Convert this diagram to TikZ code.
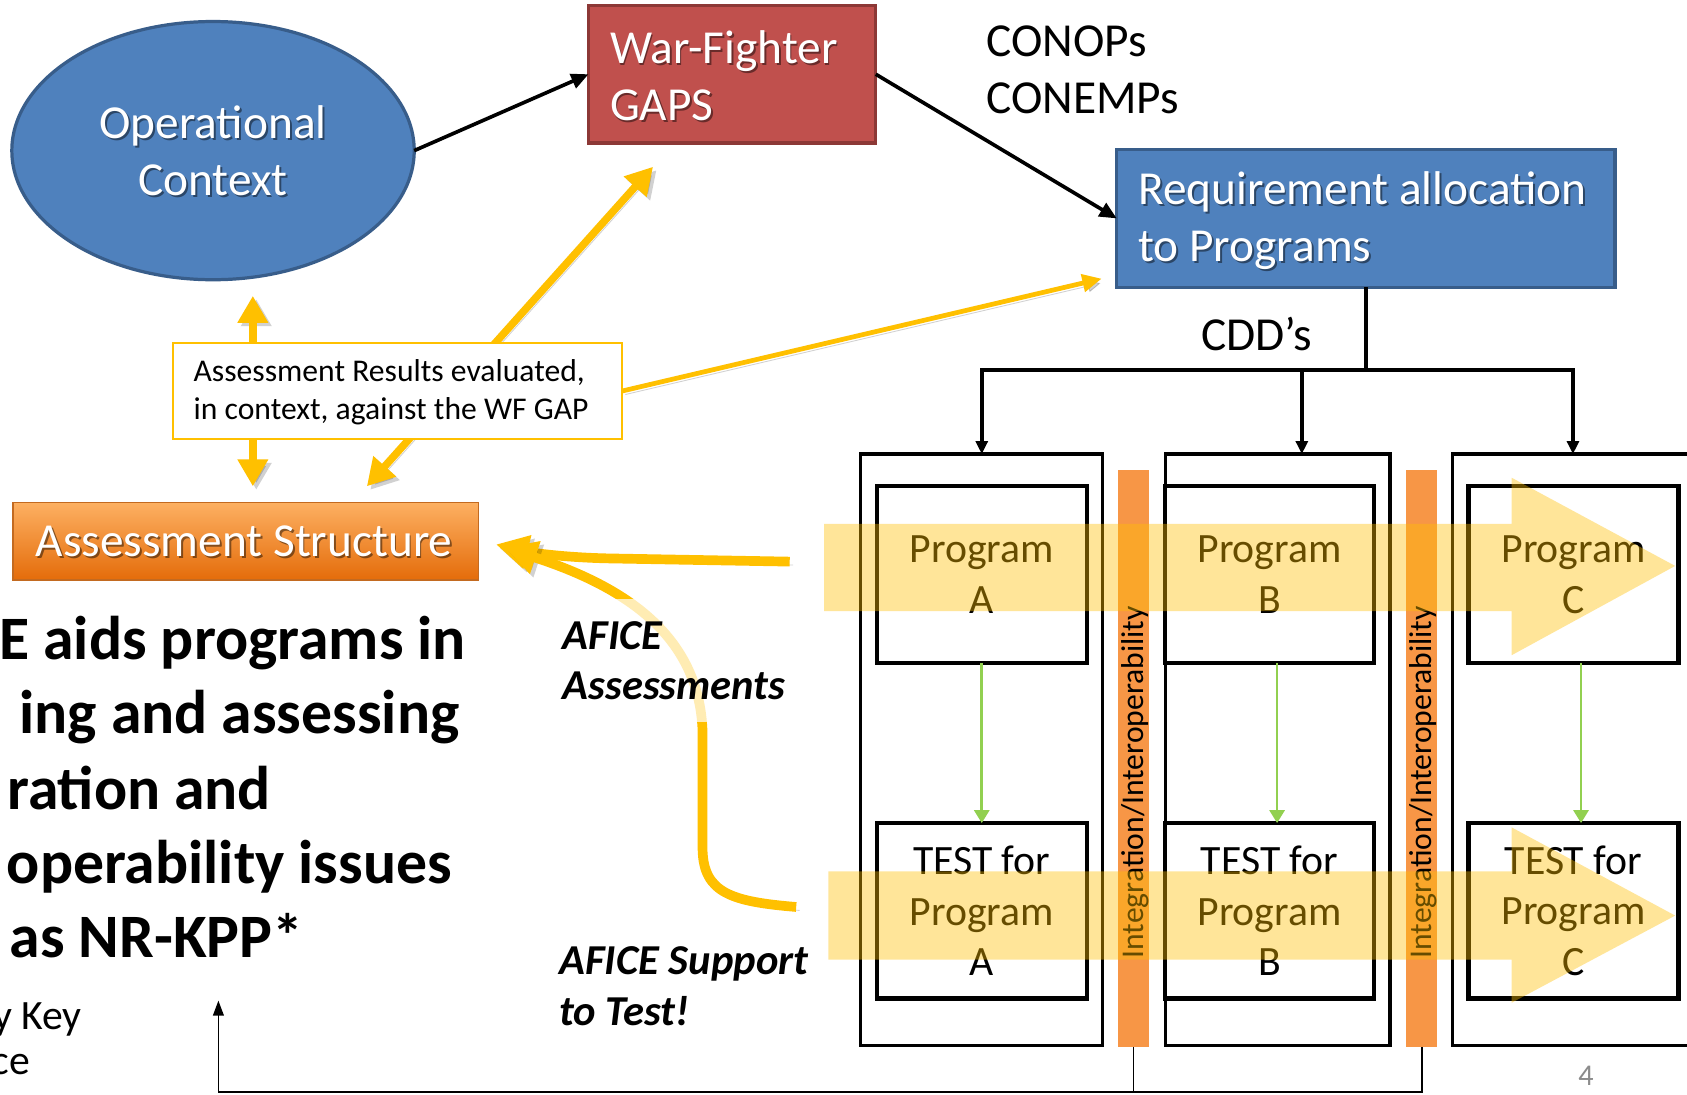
\documentclass[tikz,border=0pt]{standalone}
\usepackage{fontspec}
\setmainfont{Carlito}
\usetikzlibrary{shapes.geometric,arrows.meta,calc}

\definecolor{ocBlue}{HTML}{4F81BD}
\definecolor{ocBlueLine}{HTML}{385D8A}
\definecolor{wfRed}{HTML}{C0504D}
\definecolor{wfRedLine}{HTML}{8C3836}
\definecolor{gold}{HTML}{FFC000}
\definecolor{barOrange}{HTML}{F79646}
\definecolor{asTop}{HTML}{FDB062}
\definecolor{asBot}{HTML}{E46C0A}
\definecolor{asLine}{HTML}{C36A20}
\definecolor{greenArrow}{HTML}{92D050}
\definecolor{pageGray}{HTML}{8C8C8C}

\pgfdeclarelayer{background}
\pgfsetlayers{background,main}

\begin{document}
\begin{tikzpicture}[x=0.5pt,y=-0.5pt,
  every node/.style={inner sep=0pt, outer sep=0pt},
  headfont/.style={font=\fontsize{22}{26.5}\selectfont},
  boxfont/.style={font=\fontsize{19.4}{23.5}\selectfont},
  whitelabel/.style={headfont, text=white},
  shadowlabel/.style={headfont, text=black, text opacity=0.45},
  blackarrow/.style={line width=1.7pt, -{Triangle[length=8pt,width=7pt]}},
  treearrow/.style={line width=1.7pt, -{Triangle[length=6pt,width=5.5pt]}},
  greenarrow/.style={draw=greenArrow, line width=1.2pt, -{Triangle[length=6pt,width=7pt]}},
  goldshadow/.style={preaction={draw=black, opacity=0.18, transform canvas={shift={(1.6pt,-1.6pt)}}}},
  golddouble/.style={goldshadow, draw=gold, line width=3.5pt, {Triangle[length=12.5pt,width=13.5pt]}-{Triangle[length=12.5pt,width=13.5pt]}},
  goldthin/.style={goldshadow, draw=gold, line width=2.2pt, -{Triangle[length=9pt,width=8pt]}},
  goldcurve/.style={goldshadow, draw=gold, line width=4.5pt, -{Triangle[length=15pt,width=15pt]}},
  progbox/.style={draw, line width=2pt, boxfont, align=center, minimum width=97.5pt},
  colbox/.style={draw, line width=1.5pt, minimum height=275pt},
  intbar/.style={fill=barOrange, minimum width=14.5pt, minimum height=268pt},
  bartext/.style={rotate=90, font=\fontsize{14.7}{17}\selectfont},
  glowband/.style={fill=gold, fill opacity=0.4},
  bigbold/.style={anchor=base east, font=\bfseries\fontsize{28.7}{34}\selectfont},
  smallnote/.style={anchor=base east, font=\fontsize{19.4}{23}\selectfont},
  afice/.style={anchor=west, align=left, font=\bfseries\itshape\fontsize{19.8}{23.5}\selectfont},
]
\useasboundingbox (0,0) rectangle (1568,1017);
\begin{pgfonlayer}{background}
  \fill[white] (0,0) rectangle (1568,1017);
\end{pgfonlayer}

% Operational context
\node[ellipse, draw=ocBlueLine, fill=ocBlue, line width=1.5pt,
      minimum width=187pt, minimum height=120pt] (oc) at (198,140) {};
\node[shadowlabel, align=center] (ocs) at ($(oc)+(1.6,1.6)$) {Operational\\Context};
\node[whitelabel, align=center] (oct) at (oc) {Operational\\Context};

% War-fighter gaps
\node[draw=wfRedLine, fill=wfRed, line width=1.5pt,
      minimum width=133.5pt, minimum height=64pt] (wf) at (680.5,69) {};
\node[shadowlabel, align=left, anchor=west] (wfs) at (568.6,72.1) {War-Fighter\\GAPS};
\node[whitelabel, align=left, anchor=west] (wft) at (567,70.5) {War-Fighter\\GAPS};

\node[headfont, align=left, anchor=west] (conops) at (917,64.5) {CONOPs\\CONEMPs};

% Requirement allocation
\node[draw=ocBlueLine, fill=ocBlue, line width=1.5pt,
      minimum width=231.5pt, minimum height=64pt] (req) at (1269.5,203) {};
\node[shadowlabel, align=left, anchor=west] (reqs) at (1059.6,207.1) {Requirement allocation\\to Programs};
\node[whitelabel, align=left, anchor=west] (reqt) at (1058,205.5) {Requirement allocation\\to Programs};

\node[headfont] (cdd) at (1168,310) {CDD’s};

% Assessment structure
\node[top color=asTop, bottom color=asBot, draw=asLine, line width=0.6pt,
      minimum width=216.5pt, minimum height=36pt] (as) at (228.5,503) {};
\node[shadowlabel] (ass) at (228.6,504.6) {Assessment Structure};
\node[whitelabel] (ast) at (227,503) {Assessment Structure};

% Evaluation note
\node[draw=gold, line width=1pt, fill=white,
      minimum width=208.5pt, minimum height=44.5pt] (tb) at (369.5,363.5) {};
\node[anchor=west, align=left, font=\fontsize{14.7}{17.5}\selectfont] (tbt) at (180,364.5)
      {Assessment Results evaluated,\\in context, against the WF GAP};

% Program columns
\node[colbox, minimum width=112.5pt] (colA) at (912.5,697) {};
\node[colbox, minimum width=104.5pt] (colB) at (1187.5,697) {};
\node[colbox, minimum width=112pt] (colC) at (1462,697) {};

\node[progbox, minimum height=82pt] (PA) at (912.5,534) {Program\\A};
\node[progbox, minimum height=81.5pt] (TA) at (912.5,846.5) {TEST for\\Program\\A};
\node[progbox, minimum height=82pt, minimum width=97pt] (PB) at (1180,534) {Program\\B};
\node[progbox, minimum height=81.5pt, minimum width=97pt] (TB) at (1180,846.5) {TEST for\\Program\\B};
\node[progbox, minimum height=82pt] (PC) at (1462.5,534) {Program\\C};
\node[progbox, minimum height=81.5pt] (TC) at (1462.5,846.5) {TEST for\\Program\\C};

\node[intbar] (bar1) at (1053.5,705) {};
\node[intbar] (bar2) at (1321.5,705) {};
\node[bartext] (bar1t) at (1055,727) {Integration/Interoperability};
\node[bartext] (bar2t) at (1323,727) {Integration/Interoperability};

% Black flow
\draw[blackarrow] (oc.east) -- (wf.west);
\draw[blackarrow] (wf.east) -- (req.west);
\coordinate (split) at (1268,344);
\draw[line width=1.7pt] (req.south) -- (req.south |- split);
\draw[treearrow] (split) -| (colA.north);
\draw[treearrow] (split) -| ($(colB.north)+(22.5,0)$);
\draw[treearrow] (split) -| (colC.north);

\draw[greenarrow] (PA.south) -- (TA.north);
\draw[greenarrow] ([xshift=3.5pt]PB.south) -- ([xshift=3.5pt]TB.north);
\draw[greenarrow] ([xshift=3.5pt]PC.south) -- ([xshift=3.5pt]TC.north);

% Feedback line from the integration bars
\coordinate (fbk) at (203,930);
\coordinate (fcorner) at (203,1015);
\draw[line width=0.8pt, -{Triangle[length=7pt,width=5pt]}] (bar2.south) |- (fcorner) -- (fbk);
\draw[line width=0.8pt] (bar1.south) -- (bar1.south |- fcorner);

% Gold assessment arrows
\begin{pgfonlayer}{background}
  \draw[golddouble] ($(as.north)+(6.5,-15)$) -- ($(oc.south)+(37,15)$);
  \draw[golddouble] ($(as.north)+(112.5,-15)$) -- ($(wf.south)+(-73.5,22)$);
\end{pgfonlayer}
\draw[goldthin] (tb.east) -- ($(req.south west)+(-14,-8)$);

\coordinate (cur1) at (734,522);
\coordinate (cur2) at (740,843);
\draw[goldcurve] (cur1) -- (565,519) .. controls (520,518) and (490,513) .. ($(as.east)+(16,3)$);
\draw[goldcurve] (cur2) .. controls (680,838) and (654,830) .. (653,790) -- (653,680)
   .. controls (650,590) and (580,545) .. ($(as.east)+(24,6)$);

\node[afice, fill=white, fill opacity=0.7, text opacity=1, minimum height=57.5pt] (afa) at (523,614) {AFICE\\Assessments};
\node[afice] (afs) at (520,916.5) {AFICE Support\\to Test!};

% Statement on the left
\node[bigbold] (l1) at (433,613) {E aids programs in};
\node[bigbold] (l2) at (427,682) {ing and assessing};
\node[bigbold] (l3) at (252,752) {ration and};
\node[bigbold] (l4) at (420,821) {operability issues};
\node[bigbold] (l5) at (282,890) {as NR-KPP*};
\node[smallnote] (s1) at (76,957) {y Key};
\node[smallnote] (s2) at (28,999) {ce};

\node[text=pageGray, font=\fontsize{14}{16}\selectfont] (pg) at (1474,1000) {4};

% Translucent flow bands
\fill[glowband] (766,487) -- (1405,487) -- (1405,444) -- (1557,526) -- (1405,609) -- (1405,568) -- (766,568) -- cycle;
\fill[glowband] (770,810) -- (1405,810) -- (1405,769) -- (1557,851) -- (1405,932) -- (1405,892) -- (770,892) -- cycle;
\end{tikzpicture}
\end{document}
